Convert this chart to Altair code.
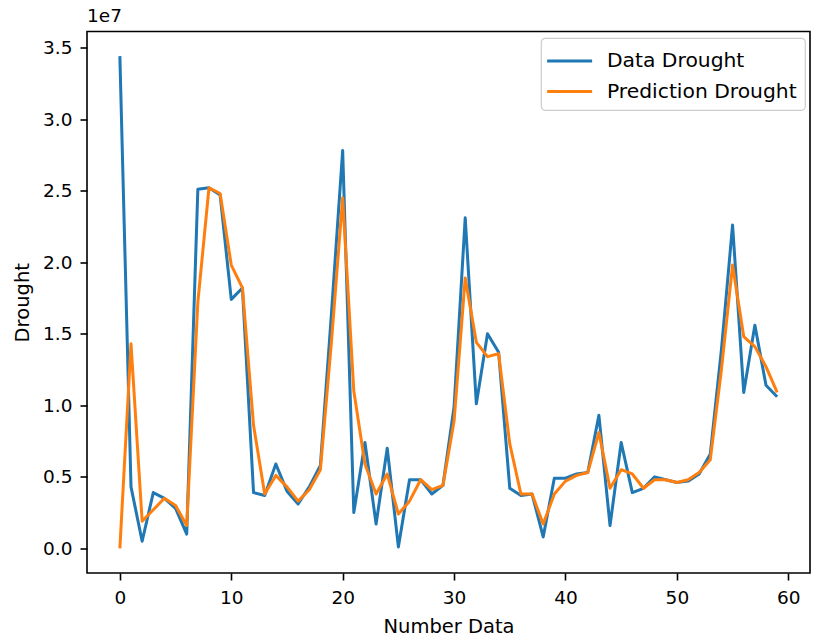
import altair as alt
import pandas as pd

# Values in units of 1e7
index = list(range(60))
data_drought = [3.44, 0.43, 0.05, 0.39, 0.35, 0.28, 0.10, 2.51, 2.52, 2.47,
                1.74, 1.82, 0.39, 0.37, 0.59, 0.40, 0.31, 0.43, 0.58, 1.65,
                2.78, 0.25, 0.74, 0.17, 0.70, 0.01, 0.48, 0.48, 0.38, 0.44,
                0.99, 2.31, 1.01, 1.50, 1.37, 0.42, 0.37, 0.38, 0.08, 0.49,
                0.49, 0.52, 0.53, 0.93, 0.16, 0.74, 0.39, 0.42, 0.50, 0.48,
                0.46, 0.47, 0.52, 0.66, 1.39, 2.26, 1.09, 1.56, 1.14, 1.06]
pred_drought = [0.00, 1.43, 0.19, 0.27, 0.35, 0.30, 0.16, 1.72, 2.52, 2.48,
                1.98, 1.82, 0.86, 0.38, 0.51, 0.43, 0.33, 0.41, 0.55, 1.45,
                2.45, 1.10, 0.59, 0.38, 0.52, 0.24, 0.33, 0.48, 0.41, 0.44,
                0.89, 1.89, 1.44, 1.34, 1.36, 0.73, 0.38, 0.38, 0.17, 0.38,
                0.47, 0.51, 0.53, 0.81, 0.42, 0.55, 0.52, 0.42, 0.48, 0.48,
                0.46, 0.48, 0.53, 0.62, 1.25, 1.98, 1.48, 1.41, 1.27, 1.09]
SCALE = 1e7
series_names = ["Data Drought", "Prediction Drought"]
series_colors = ["#1f77b4", "#ff7f0e"]
x_ticks = [0, 10, 20, 30, 40, 50, 60]
y_ticks = [0.0, 0.5, 1.0, 1.5, 2.0, 2.5, 3.0, 3.5]

rows = []
for name, vals in zip(series_names, [data_drought, pred_drought]):
    for i, v in zip(index, vals):
        rows.append({"idx": i, "value": v * SCALE, "series": name})
df = pd.DataFrame(rows)

ymax = max(data_drought + pred_drought)
ymin = min(data_drought + pred_drought)
m = 0.05 * (ymax - ymin)
ydom = [(ymin - m) * SCALE, (ymax + m) * SCALE]
xm = 0.05 * (index[-1] - index[0])
xdom = [index[0] - xm, index[-1] + xm]

FONT = "DejaVu Sans"

x_enc = alt.X("idx:Q", title="Number Data",
              scale=alt.Scale(domain=xdom, nice=False, zero=False),
              axis=alt.Axis(values=x_ticks, format="d"))
y_enc = alt.Y("value:Q", title="Drought",
              scale=alt.Scale(domain=ydom, nice=False, zero=False),
              axis=alt.Axis(values=[t * SCALE for t in y_ticks],
                            labelExpr="format(datum.value/1e7, '.1f')"))
color_enc = alt.Color("series:N",
                      scale=alt.Scale(domain=series_names, range=series_colors),
                      legend=alt.Legend(title=None, orient="none",
                                        legendX=454, legendY=6.5,
                                        symbolType="M-1.25,0H2.083", symbolSize=729,
                                        symbolStrokeWidth=3,
                                        labelFontSize=20.3, labelFont=FONT,
                                        labelColor="#000000", labelOffset=28,
                                        labelLimit=400,
                                        rowPadding=4.5, padding=8,
                                        fillColor="white", strokeColor="#cccccc",
                                        cornerRadius=4))

base = alt.Chart(df).encode(x=x_enc, y=y_enc, color=color_enc)
lines = [
    base.transform_filter(alt.datum.series == name).mark_line(
        strokeWidth=3, strokeJoin="round")
    for name in series_names
]

chart = alt.layer(*lines).properties(
    width=723, height=541.5,
    background="white",
    title=alt.TitleParams("1e7", anchor="start", frame="group", fontSize=18.5,
                          font=FONT, fontWeight="normal", color="#000000",
                          offset=6),
    autosize=alt.AutoSizeParams(type="none"),
    padding={"left": 87, "top": 31.5, "right": 3, "bottom": 71},
).configure_view(
    stroke="#000000", strokeWidth=1.6
).configure_axis(
    domain=False, grid=False,
    ticks=True, tickColor="#000000", tickSize=7, tickWidth=1.6,
    labelFont=FONT, labelFontSize=18.5, labelColor="#000000", labelPadding=8,
    titleFont=FONT, titleFontSize=19.5, titleColor="#000000",
    titleFontWeight="normal"
).configure_axisX(
    titlePadding=11
).configure_axisY(
    titlePadding=10
).configure_legend(
    strokeWidth=1.2
)

chart.save("out.html", embed_options={"renderer": "svg", "actions": False})
